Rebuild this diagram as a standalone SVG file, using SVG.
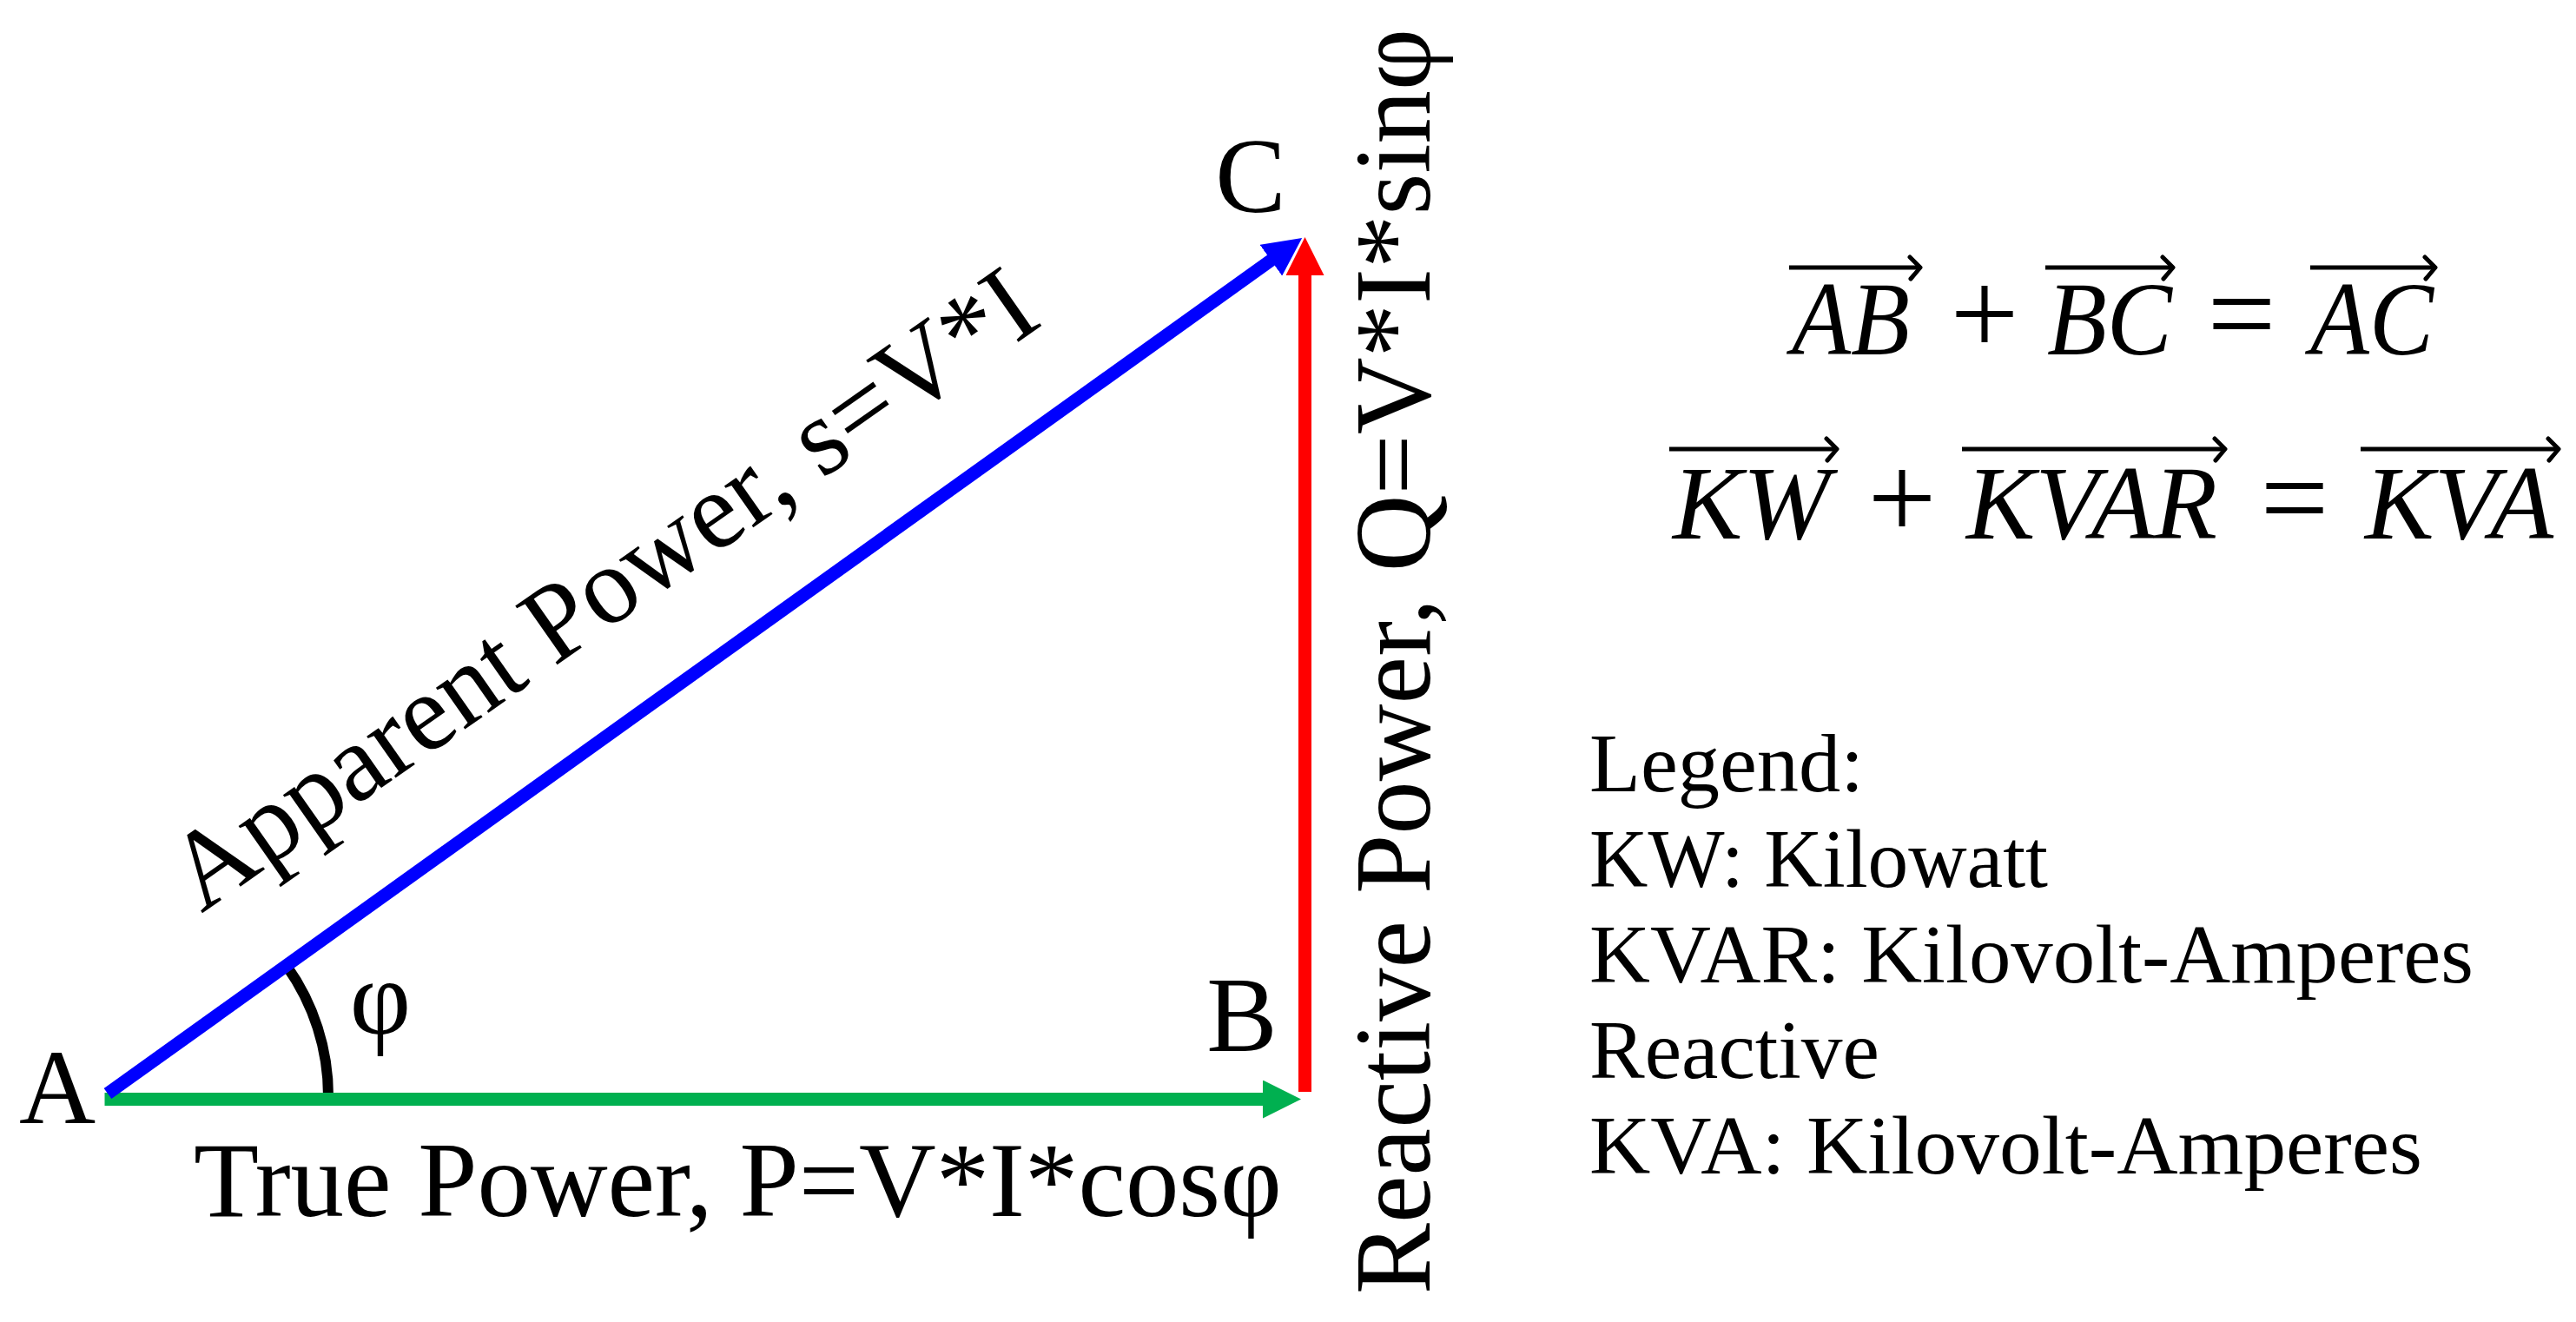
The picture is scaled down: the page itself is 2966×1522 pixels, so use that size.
<svg xmlns="http://www.w3.org/2000/svg" width="2966" height="1522" viewBox="0 0 2966 1522">
<defs>
<style>
.lbl{font-family:"Liberation Serif","Times New Roman",serif;fill:#000}
.big{font-size:122px}
.leg{font-size:95px}
.math{font-family:"Liberation Serif","Times New Roman",serif;font-style:italic;font-size:121px;fill:#000}
.op{font-family:"Liberation Serif","Times New Roman",serif;font-size:140px;fill:#000;text-anchor:middle}
.vec{fill:none;stroke:#000;stroke-width:5;stroke-linecap:butt}
.vech{fill:none;stroke:#000;stroke-width:5;stroke-linecap:round;stroke-linejoin:round}
</style>
<marker id="ahBlue" markerUnits="userSpaceOnUse" viewBox="0 0 44 44" markerWidth="44" markerHeight="44" refX="2" refY="22" orient="auto"><path d="M0,0 L44,22 L0,44 z" fill="#0000FF"/></marker>
<marker id="ahRed" markerUnits="userSpaceOnUse" viewBox="0 0 44 44" markerWidth="44" markerHeight="44" refX="2" refY="22" orient="auto"><path d="M0,0 L44,22 L0,44 z" fill="#FF0000"/></marker>
<marker id="ahGreen" markerUnits="userSpaceOnUse" viewBox="0 0 44 44" markerWidth="44" markerHeight="44" refX="2" refY="22" orient="auto"><path d="M0,0 L44,22 L0,44 z" fill="#00B050"/></marker>
</defs>
<rect width="2966" height="1522" fill="#fff"/>

<g id="angle">
<path d="M378,1262 A258,258 0 0 0 330,1112" fill="none" stroke="#000" stroke-width="12"/>
<text class="lbl big" x="438" y="1190" text-anchor="middle">φ</text>
</g>

<g id="connectors">
<line x1="120.5" y1="1265.5" x2="1456" y2="1265.5" stroke="#00B050" stroke-width="15" marker-end="url(#ahGreen)"/>
<line x1="1502.5" y1="1257" x2="1502.5" y2="315" stroke="#FF0000" stroke-width="15" marker-end="url(#ahRed)"/>
<line x1="124" y1="1259" x2="1465" y2="298.5" stroke="#0000FF" stroke-width="15" marker-end="url(#ahBlue)"/>
</g>

<g id="node-A"><text class="lbl big" x="66" y="1293" text-anchor="middle">A</text></g>
<g id="node-B"><text class="lbl big" x="1430" y="1210" text-anchor="middle">B</text></g>
<g id="node-C"><text class="lbl big" x="1440" y="244" text-anchor="middle">C</text></g>

<g id="label-true">
<text class="lbl big" x="223" y="1400" textLength="1253" lengthAdjust="spacingAndGlyphs">True Power, P=V*I*cosφ</text>
</g>
<g id="label-reactive">
<text class="lbl" font-size="124" transform="translate(1646,1490) rotate(-90)" x="0" y="0" textLength="1457" lengthAdjust="spacingAndGlyphs">Reactive Power, Q=V*I*sinφ</text>
</g>
<g id="label-apparent">
<text class="lbl" font-size="127" transform="translate(232,1052) rotate(-35)" x="0" y="0" textLength="1185" lengthAdjust="spacingAndGlyphs">Apparent Power, s=V*I</text>
</g>

<g id="equation-1">
<text class="math" x="2063" y="408" textLength="136" lengthAdjust="spacingAndGlyphs">AB</text>
<text class="op" x="2285" y="408">+</text>
<text class="math" x="2357" y="408" textLength="144" lengthAdjust="spacingAndGlyphs">BC</text>
<text class="op" x="2581" y="408">=</text>
<text class="math" x="2660" y="408" textLength="142" lengthAdjust="spacingAndGlyphs">AC</text>
<path class="vec" d="M2060,308 H2210 M2355,308 H2500 M2660,308 H2802"/>
<path class="vech" d="M2199,296 Q2206,303 2211,308 Q2206,314 2200,321 M2490,296 Q2497,303 2502,308 Q2497,314 2491,321 M2792,296 Q2799,303 2804,308 Q2799,314 2793,321"/>
</g>

<g id="equation-2">
<text class="math" x="1926" y="620" textLength="181" lengthAdjust="spacingAndGlyphs">KW</text>
<text class="op" x="2190" y="620">+</text>
<text class="math" x="2264" y="620" textLength="289" lengthAdjust="spacingAndGlyphs">KVAR</text>
<text class="op" x="2642" y="620">=</text>
<text class="math" x="2723" y="620" textLength="217" lengthAdjust="spacingAndGlyphs">KVA</text>
<path class="vec" d="M1922,517 H2114 M2259,517 H2561 M2718,517 H2945"/>
<path class="vech" d="M2103,505 Q2110,512 2115,517 Q2110,523 2104,530 M2550,505 Q2557,512 2562,517 Q2557,523 2551,530 M2934,505 Q2941,512 2946,517 Q2941,523 2935,530"/>
</g>

<g id="legend">
<text class="lbl leg" x="1830" y="911" textLength="316" lengthAdjust="spacingAndGlyphs">Legend:</text>
<text class="lbl leg" x="1830" y="1021" textLength="528" lengthAdjust="spacingAndGlyphs">KW: Kilowatt</text>
<text class="lbl leg" x="1830" y="1131" textLength="1018" lengthAdjust="spacingAndGlyphs">KVAR: Kilovolt-Amperes</text>
<text class="lbl leg" x="1830" y="1241" textLength="334" lengthAdjust="spacingAndGlyphs">Reactive</text>
<text class="lbl leg" x="1830" y="1351" textLength="959" lengthAdjust="spacingAndGlyphs">KVA: Kilovolt-Amperes</text>
</g>
</svg>
